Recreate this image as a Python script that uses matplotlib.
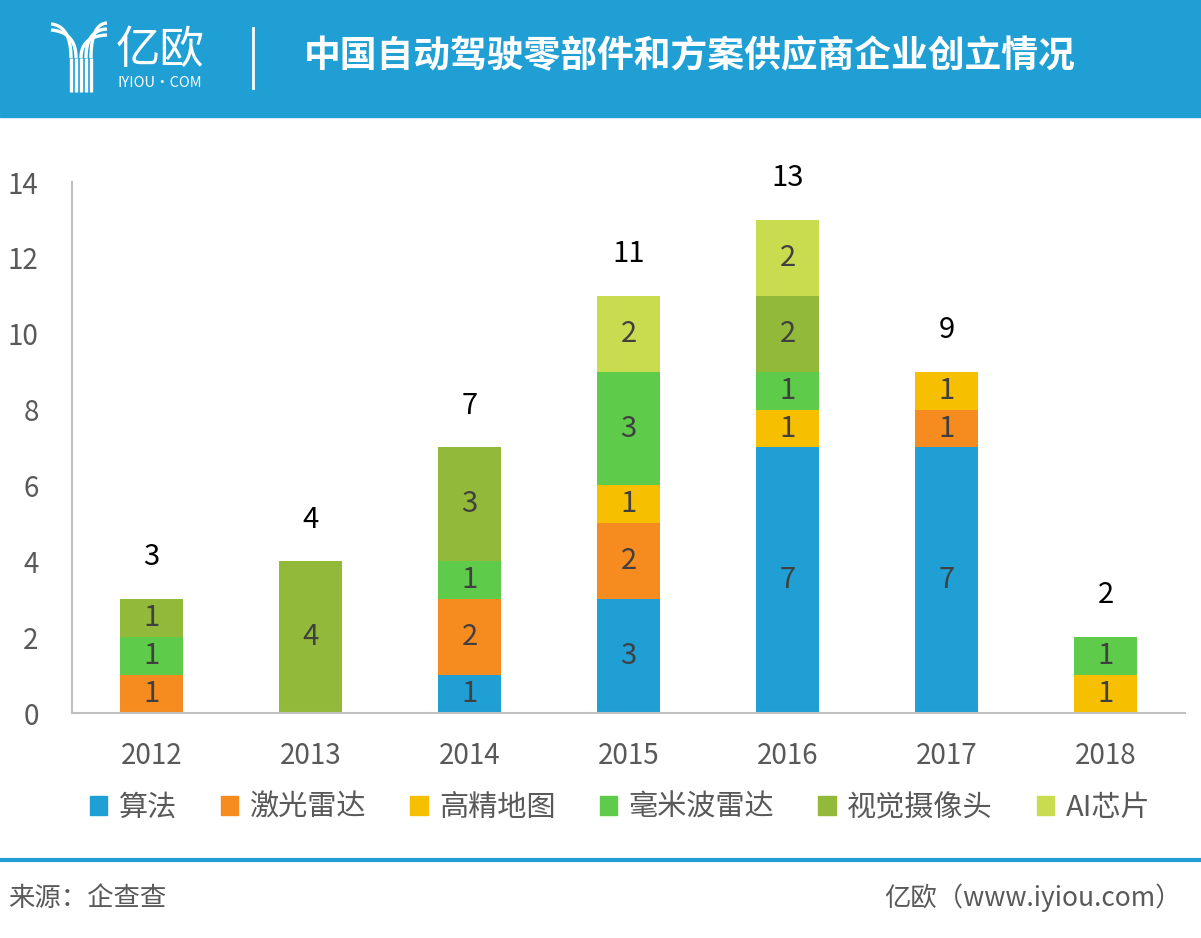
import numpy as np
import matplotlib
matplotlib.use('Agg')
import matplotlib.pyplot as plt
from matplotlib.patches import Rectangle, Patch

plt.rcParams['font.family'] = ['Noto Sans CJK SC', 'DejaVu Sans']

years = ['2012', '2013', '2014', '2015', '2016', '2017', '2018']
categories = ['算法', '激光雷达', '高精地图', '毫米波雷达', '视觉摄像头', 'AI芯片']
suanfa = [0, 0, 1, 3, 7, 7, 0]
jiguang = [1, 0, 2, 2, 0, 1, 0]
gaojing = [0, 0, 0, 1, 1, 1, 1]
haomibo = [1, 0, 1, 3, 1, 0, 1]
shijue = [1, 4, 3, 0, 2, 0, 0]
aichip = [0, 0, 0, 2, 2, 0, 0]
series = [suanfa, jiguang, gaojing, haomibo, shijue, aichip]
colors = ['#1f9fd3', '#f68b1f', '#f6c000', '#5fcb4a', '#93b93a', '#c9dc50']

title = '中国自动驾驶零部件和方案供应商企业创立情况'
blue = '#1f9fd3'

W, H = 1201, 938
fig = plt.figure(figsize=(W / 100, H / 100), dpi=100)

# overlay in pixel coordinates for header / footer decoration
deco = fig.add_axes([0, 0, 1, 1], zorder=0)
deco.set_xlim(0, W)
deco.set_ylim(H, 0)
deco.axis('off')
deco.add_patch(Rectangle((0, 0), W, 117, color=blue))
deco.plot([253, 253], [28, 88], color='white', lw=2)
deco.plot([0, W], [860, 860], color=blue, lw=3)

# rough logo
t = np.linspace(0, 1, 40)
def bez(p0, p1, p2):
    x = (1 - t) ** 2 * p0[0] + 2 * (1 - t) * t * p1[0] + t ** 2 * p2[0]
    y = (1 - t) ** 2 * p0[1] + 2 * (1 - t) * t * p1[1] + t ** 2 * p2[1]
    return x, y
for i, sx in enumerate([71, 76]):
    x, y = bez((51, 24 + 6 * i), (sx, 26 + 6 * i), (sx, 58))
    deco.plot(x, y, color='white', lw=2.4, solid_capstyle='butt')
    deco.plot([sx, sx], [58, 92], color='white', lw=2.4, solid_capstyle='butt')
for i, sx in enumerate([91, 86, 81]):
    x, y = bez((107, 23 + 6 * i), (sx, 24 + 6 * i), (sx, 58))
    deco.plot(x, y, color='white', lw=2.4, solid_capstyle='butt')
    deco.plot([sx, sx], [58, 92], color='white', lw=2.4, solid_capstyle='butt')
deco.text(160, 50, '亿欧', color='white', fontsize=32, fontweight='light',
          ha='center', va='center')
deco.text(160, 83, 'IYIOU·COM', color='white', fontsize=10.5,
          ha='center', va='center')
deco.text(690, 57, title, color='white', fontsize=26.5, fontweight='bold',
          ha='center', va='center')
deco.text(8, 898, '来源：企查查', color='#595959', fontsize=19,
          fontweight='light', ha='left', va='center')
deco.text(1182, 898, '亿欧（www.iyiou.com）', color='#595959', fontsize=19,
          fontweight='light', ha='right', va='center')

# chart
ax = fig.add_axes([72 / W, 1 - 713 / H, (1185 - 72) / W, (713 - 182) / H], zorder=1)
ax.patch.set_alpha(0)
x = np.arange(len(years))
bottom = np.zeros(len(years))
for vals, col, name in zip(series, colors, categories):
    vals = np.array(vals)
    ax.bar(x, vals, 0.4, bottom=bottom, color=col, label=name)
    for xi, v, b in zip(x, vals, bottom):
        if v > 0:
            ax.text(xi, b + v / 2, str(v), ha='center', va='center',
                    fontsize=21, color='#404040', fontweight='light')
    bottom = bottom + vals

for xi, tot in zip(x, bottom):
    ax.text(xi, tot + 1.1, str(int(tot)), ha='center', va='center',
            fontsize=21, color='black', fontweight='light')

ax.set_xlim(-0.5, 6.5)
ax.set_ylim(0, 14)
ax.set_yticks(range(0, 15, 2))
ax.set_xticks(x)
ax.set_xticklabels(years)
ax.tick_params(axis='both', length=0, labelsize=20, labelcolor='#595959')
ax.tick_params(axis='y', pad=24)
ax.tick_params(axis='x', pad=20)
for lab in ax.get_xticklabels() + ax.get_yticklabels():
    lab.set_fontweight('light')
for s in ['top', 'right']:
    ax.spines[s].set_visible(False)
for s in ['left', 'bottom']:
    ax.spines[s].set_color('#bfbfbf')
    ax.spines[s].set_linewidth(1.5)

handles = [Patch(color=c) for c in colors]
leg = fig.legend(handles, categories, loc='center', ncol=6,
                 bbox_to_anchor=(620 / W, 1 - 808 / H), frameon=False,
                 handlelength=0.6, handleheight=0.6, handletextpad=0.4,
                 columnspacing=1.5,
                 prop={'size': 21, 'weight': 'light'})
for txt in leg.get_texts():
    txt.set_color('#595959')

fig.savefig('out.png', dpi=100)
